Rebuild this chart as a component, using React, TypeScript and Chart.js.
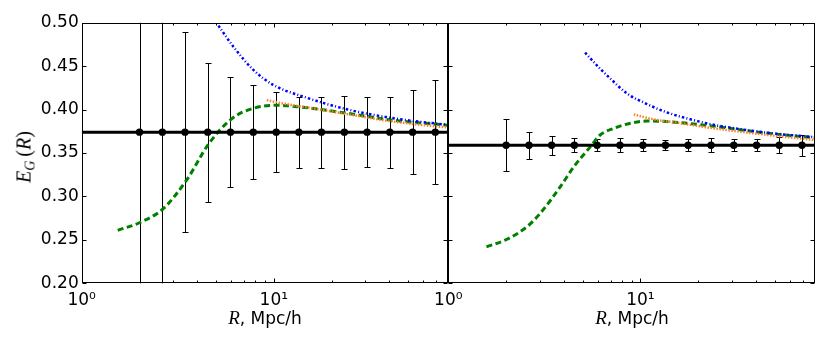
import React, { useEffect, useRef } from "react";
import { Chart, registerables } from "chart.js";

Chart.register(...registerables);

// ---------- data ----------
// bin radii (Mpc/h), shared by both panels
const binR = [2.0, 2.63, 3.45, 4.53, 5.95, 7.82, 10.3, 13.5, 17.7, 23.3, 30.6, 40.2, 52.8, 69.3];

// left panel measurements
const leftEG = [0.374, 0.374, 0.374, 0.374, 0.374, 0.374, 0.374, 0.374, 0.374, 0.374, 0.374, 0.374, 0.374, 0.374];
const leftErr = [0.25, 0.25, 0.115, 0.08, 0.063, 0.054, 0.046, 0.041, 0.041, 0.042, 0.04, 0.041, 0.048, 0.06];
const leftFitEG = 0.374;

// right panel measurements
const rightEG = [0.359, 0.359, 0.359, 0.359, 0.359, 0.359, 0.359, 0.359, 0.359, 0.359, 0.359, 0.359, 0.359, 0.359];
const rightErr = [0.03, 0.0155, 0.011, 0.008, 0.007, 0.008, 0.007, 0.006, 0.007, 0.008, 0.007, 0.007, 0.009, 0.012];
const rightFitEG = 0.359;

// model curves, left panel
const leftGreenR = [1.54, 2.01, 2.66, 3.52, 4.6, 6.09, 8.0, 10.4, 13.7, 23.7, 40.8, 70.8, 81];
const leftGreenEG = [0.261, 0.27, 0.286, 0.319, 0.361, 0.39, 0.402, 0.405, 0.403, 0.396, 0.388, 0.383, 0.382];
const leftBlueR = [5.15, 6.16, 7.83, 9.95, 14.3, 24.0, 42.0, 70.6, 81];
const leftBlueEG = [0.4966, 0.4724, 0.4456, 0.4283, 0.4148, 0.4003, 0.39, 0.3838, 0.3825];
const leftOrangeR = [9.2, 10.8, 12.6, 16.0, 23.7, 40.8, 70.8, 81];
const leftOrangeEG = [0.411, 0.4075, 0.405, 0.4015, 0.395, 0.3865, 0.3805, 0.3795];

// model curves, right panel
const rightGreenR = [1.58, 2.02, 2.57, 3.01, 3.83, 4.5, 5.49, 6.17, 7.26, 8.87, 10.8, 13.7, 18.2, 24.0, 33.0, 49.3, 81];
const rightGreenEG = [0.242, 0.2507, 0.2652, 0.2806, 0.3112, 0.3342, 0.3573, 0.3707, 0.3784, 0.3842, 0.3868, 0.3862, 0.3838, 0.3808, 0.3768, 0.372, 0.3675];
const rightBlueR = [5.15, 6.17, 6.95, 8.49, 10.8, 13.7, 18.2, 24.0, 33.0, 49.3, 81];
const rightBlueEG = [0.4656, 0.447, 0.436, 0.4187, 0.4064, 0.3968, 0.3888, 0.3825, 0.3775, 0.3725, 0.3682];
const rightOrangeR = [9.23, 10.8, 12.6, 14.9, 22.2, 33.0, 49.3, 81];
const rightOrangeEG = [0.3945, 0.3905, 0.3875, 0.3855, 0.3795, 0.3745, 0.37, 0.3648];

// axes
const xMin = 1;
const xMax = 81;
const xTickValues = [1, 2, 3, 4, 5, 6, 7, 8, 9, 10, 20, 30, 40, 50, 60, 70, 80];
const majorTicks = [1, 10];
const majorTickLabels = ["10\u2070", "10\u00B9"];
const yMin = 0.2;
const yMax = 0.5;
const yStep = 0.05;

// ---------- plugins ----------
function errorBarPlugin(xs: number[], ys: number[], errs: number[]) {
  return {
    id: "errorBars",
    beforeDatasetsDraw(chart: any) {
      const { ctx, chartArea: a, scales } = chart;
      ctx.save();
      ctx.beginPath();
      ctx.rect(a.left, a.top, a.right - a.left, a.bottom - a.top);
      ctx.clip();
      ctx.strokeStyle = "#000";
      ctx.lineWidth = 1;
      for (let i = 0; i < xs.length; i++) {
        const px = Math.round(scales.x.getPixelForValue(xs[i])) + 0.5;
        const top = Math.round(scales.y.getPixelForValue(ys[i] + errs[i])) + 0.5;
        const bot = Math.round(scales.y.getPixelForValue(ys[i] - errs[i])) + 0.5;
        ctx.beginPath();
        ctx.moveTo(px, top);
        ctx.lineTo(px, bot);
        ctx.moveTo(px - 3, top);
        ctx.lineTo(px + 3, top);
        ctx.moveTo(px - 3, bot);
        ctx.lineTo(px + 3, bot);
        ctx.stroke();
      }
      ctx.restore();
    },
  };
}

const framePlugin = {
  id: "frame",
  afterDraw(chart: any) {
    const { ctx, chartArea: a, scales } = chart;
    const L = Math.round(a.left) + 0.5;
    const R = Math.round(a.right) - 0.5;
    const T = Math.round(a.top) + 0.5;
    const B = Math.round(a.bottom) - 0.5;
    ctx.save();
    ctx.strokeStyle = "#000";
    ctx.lineWidth = 1;
    ctx.beginPath();
    for (const t of scales.x.ticks) {
      const px = Math.round(scales.x.getPixelForValue(t.value)) + 0.5;
      const len = majorTicks.includes(t.value) ? 4 : 2;
      ctx.moveTo(px, B);
      ctx.lineTo(px, B - len);
      ctx.moveTo(px, T);
      ctx.lineTo(px, T + len);
    }
    for (const t of scales.y.ticks) {
      const py = Math.round(scales.y.getPixelForValue(t.value)) + 0.5;
      ctx.moveTo(L, py);
      ctx.lineTo(L + 4, py);
      ctx.moveTo(R, py);
      ctx.lineTo(R - 4, py);
    }
    ctx.stroke();
    ctx.strokeRect(L, T, R - L, B - T);
    ctx.restore();
  },
};

function curve(r: number[], v: number[], color: string, dash: number[], width: number) {
  return {
    type: "line",
    data: r.map((x, i) => ({ x, y: v[i] })),
    borderColor: color,
    borderDash: dash,
    borderWidth: width,
    borderCapStyle: "butt",
    pointRadius: 0,
    fill: false,
    cubicInterpolationMode: "monotone",
  };
}

type PanelProps = {
  left: number;
  width: number;
  areaLeft: number;
  areaRight: number;
  showY: boolean;
  eg: number[];
  err: number[];
  fit: number;
  green: [number[], number[]];
  blue: [number[], number[]];
  orange: [number[], number[]];
};

function Panel(p: PanelProps) {
  const ref = useRef<HTMLCanvasElement>(null);
  useEffect(() => {
    const font = { family: "DejaVu Sans", size: 17 };
    const chart = new Chart(ref.current as HTMLCanvasElement, {
      type: "line",
      data: {
        datasets: [
          {
            type: "line",
            data: binR.map((x, i) => ({ x, y: p.eg[i] })),
            showLine: false,
            pointRadius: 3.7,
            pointBackgroundColor: "#000",
            pointBorderColor: "#000",
            pointBorderWidth: 0,
          },
          {
            type: "line",
            data: [
              { x: xMin, y: p.fit },
              { x: xMax, y: p.fit },
            ],
            borderColor: "#000",
            borderWidth: 3,
            pointRadius: 0,
          },
          curve(p.blue[0], p.blue[1], "#0000ff", [2.5, 2.2, 1, 2.2], 2.5),
          curve(p.orange[0], p.orange[1], "#ff7f27", [1.5, 1.5], 2.5),
          curve(p.green[0], p.green[1], "#008000", [6, 3.5], 3),
        ] as any,
      },
      options: {
        responsive: false,
        animation: false,
        devicePixelRatio: 1,
        layout: { padding: { top: 22.7, right: p.width - p.areaRight, bottom: 0, left: 0 } },
        plugins: { legend: { display: false }, tooltip: { enabled: false } },
        scales: {
          x: {
            type: "logarithmic",
            min: xMin,
            max: xMax,
            grid: { display: false, drawTicks: false },
            border: { display: false },
            afterBuildTicks: (s: any) => {
              s.ticks = xTickValues.map((v) => ({ value: v, major: majorTicks.includes(v) }));
            },
            afterFit: (s: any) => {
              s.height = 66.7;
            },
            ticks: {
              autoSkip: false,
              maxRotation: 0,
              minRotation: 0,
              padding: 7,
              color: "#000",
              font,
              callback: (v: any) => {
                const i = majorTicks.indexOf(Number(v));
                return i >= 0 ? majorTickLabels[i] : "";
              },
            },
          },
          y: {
            type: "linear",
            min: yMin,
            max: yMax,
            grid: { display: false, drawTicks: false },
            border: { display: false },
            afterFit: (s: any) => {
              s.width = p.areaLeft;
            },
            ticks: {
              display: p.showY,
              stepSize: yStep,
              padding: 3,
              color: "#000",
              font,
              callback: (v: any) => Number(v).toFixed(2),
            },
          },
        },
      } as any,
      plugins: [errorBarPlugin(binR, p.eg, p.err), framePlugin],
    });
    return () => chart.destroy();
  }, []);
  return (
    <canvas
      ref={ref}
      width={p.width}
      height={350}
      style={{ position: "absolute", left: p.left, top: 0, width: p.width, height: 350 }}
    />
  );
}

const xTitleStyle: React.CSSProperties = {
  position: "absolute",
  top: 309,
  width: 200,
  textAlign: "center",
  fontFamily: "DejaVu Sans",
  fontSize: 17,
  lineHeight: "17px",
  whiteSpace: "nowrap",
  color: "#000",
};
const mathStyle: React.CSSProperties = { fontFamily: "Liberation Serif", fontStyle: "italic", fontSize: 19 };

export default function App() {
  return (
    <div style={{ position: "fixed", left: 0, top: 0, width: 830, height: 350, background: "#fff", overflow: "hidden" }}>
      <Panel
        left={0}
        width={470}
        areaLeft={81.7}
        areaRight={448.3}
        showY={true}
        eg={leftEG}
        err={leftErr}
        fit={leftFitEG}
        green={[leftGreenR, leftGreenEG]}
        blue={[leftBlueR, leftBlueEG]}
        orange={[leftOrangeR, leftOrangeEG]}
      />
      <Panel
        left={400}
        width={430}
        areaLeft={48.3}
        areaRight={415}
        showY={false}
        eg={rightEG}
        err={rightErr}
        fit={rightFitEG}
        green={[rightGreenR, rightGreenEG]}
        blue={[rightBlueR, rightBlueEG]}
        orange={[rightOrangeR, rightOrangeEG]}
      />
      <div style={{ ...xTitleStyle, left: 265 - 100 }}>
        <span style={mathStyle}>R</span>, Mpc/h
      </div>
      <div style={{ ...xTitleStyle, left: 632 - 100 }}>
        <span style={mathStyle}>R</span>, Mpc/h
      </div>
      <div
        style={{
          position: "absolute",
          left: 27,
          top: 157,
          transform: "translate(-50%, -50%) rotate(-90deg)",
          fontFamily: "Liberation Serif",
          fontSize: 20,
          lineHeight: "20px",
          whiteSpace: "nowrap",
          color: "#000",
        }}
      >
        <i>E</i>
        <sub style={{ fontSize: 14, fontStyle: "italic", verticalAlign: "-4px" }}>G</sub>
        {"\u2009("}
        <i>R</i>)
      </div>
    </div>
  );
}
